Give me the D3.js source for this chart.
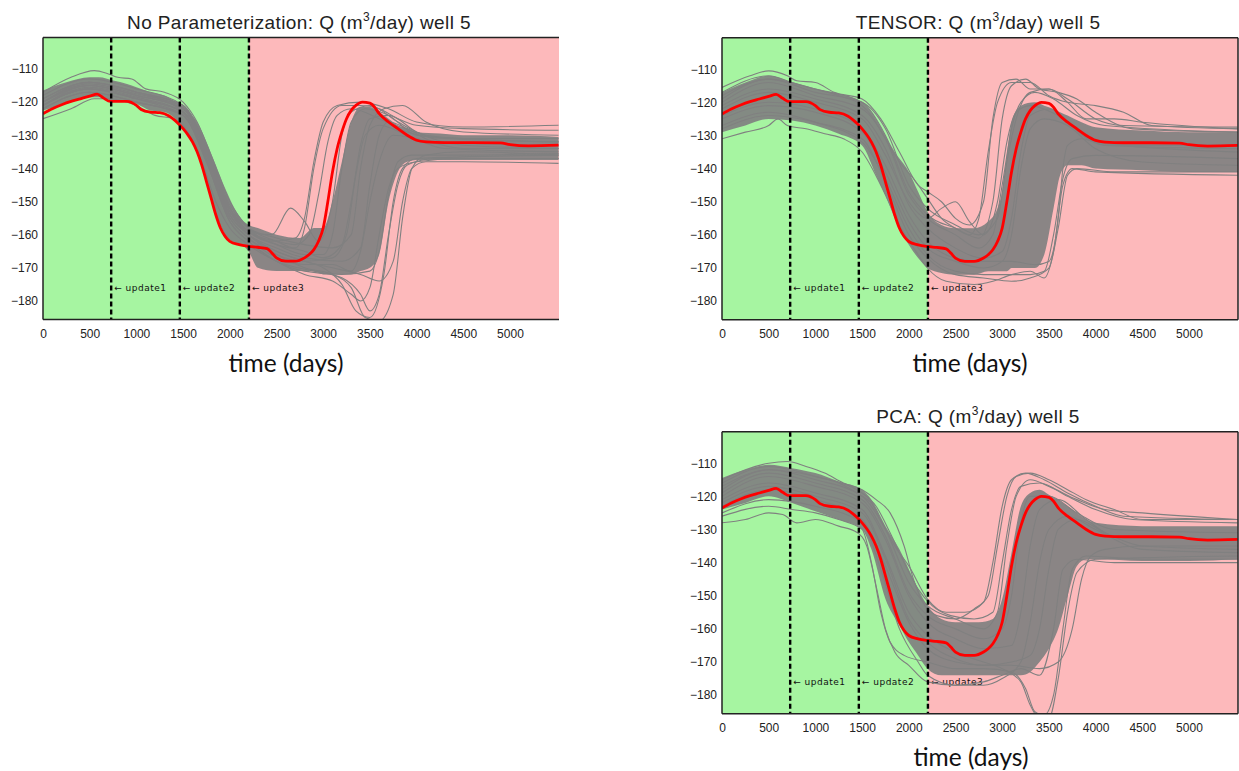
<!DOCTYPE html>
<html>
<head>
<meta charset="utf-8">
<script src="https://cdn.jsdelivr.net/npm/d3@7"></script>
<style>
  body { margin: 0; background: #fff; }
  svg { display: block; }
</style>
</head>
<body>
<svg width="1239" height="771"></svg>
<script>
// tick labels
const xTicks = [0, 500, 1000, 1500, 2000, 2500, 3000, 3500, 4000, 4500, 5000];
const yTicks = [-110, -120, -130, -140, -150, -160, -170, -180];
// update times (days) and labels
const updateDays = [730, 1465, 2205];
const updateLabels = ['update1', 'update2', 'update3'];
const historyEnd = 2205; // green = history, pink = forecast

// reference (true) rate, same in every panel: [day, Q]
const truthQ = [[0,-123.5],[100,-122],[200,-120.8],[300,-119.8],[400,-119],[500,-118.2],[580,-117.6],[650,-118.8],[720,-119.8],[800,-119.8],[900,-119.8],[1000,-121],[1050,-122.2],[1150,-123],[1250,-123.2],[1350,-124.2],[1450,-126.5],[1500,-128],[1550,-129.8],[1600,-132],[1650,-135],[1700,-139],[1750,-144],[1800,-149],[1850,-154],[1900,-158],[1950,-160.5],[2000,-162],[2100,-163],[2200,-163.5],[2300,-163.8],[2400,-164.2],[2450,-165.5],[2500,-167],[2600,-168],[2700,-168],[2800,-167],[2850,-166],[2900,-164.5],[2950,-162],[3000,-158],[3050,-150],[3100,-141],[3150,-134],[3200,-129],[3250,-125],[3300,-122.5],[3350,-121],[3420,-120],[3500,-120.3],[3550,-121.5],[3600,-123.5],[3700,-126],[3800,-128],[3900,-130],[4000,-131.5],[4100,-132],[4300,-132.2],[4600,-132.2],[4900,-132.3],[5000,-132.8],[5200,-133.2],[5520,-133]];

// dense part of each ensemble: [day, low, high]
const bandNoParam = [[0,-122.5,-116.5],[250,-120.5,-114],[500,-118.5,-112.5],[600,-118.5,-112.5],[750,-119.5,-113.5],[900,-119.5,-114.5],[1000,-120.5,-115.5],[1150,-122.5,-117],[1300,-123,-118],[1450,-126,-120.5],[1550,-129.5,-122.5],[1650,-135,-126],[1750,-143.5,-132],[1850,-153.5,-139],[1950,-160,-146],[2050,-162.5,-152],[2150,-163.5,-156],[2200,-165,-157],[2300,-170,-158],[2500,-171,-160],[2750,-171,-161],[2900,-171,-158],[3000,-172,-158],[3100,-172,-150],[3200,-172,-138],[3300,-172,-126],[3400,-171,-121.5],[3500,-170,-121.5],[3600,-166,-123],[3700,-150,-125],[3800,-141,-127],[3900,-138,-128],[4000,-137.5,-129],[4250,-137.5,-129.5],[4500,-137.5,-130],[5000,-137.5,-130],[5520,-137.5,-130.5]];
const bandTensor = [[0,-129,-117],[250,-127,-114],[500,-125,-112],[750,-125.5,-114],[1000,-127,-116],[1250,-129.5,-117.5],[1500,-133,-120],[1650,-142,-125],[1750,-148,-130],[1850,-155,-135],[2000,-163,-141],[2100,-167,-147],[2200,-170,-153],[2350,-171.5,-157],[2500,-172,-158],[2700,-172,-158],[2850,-171,-156],[2950,-171,-152],[3000,-171,-147],[3050,-171,-136],[3100,-170,-126],[3200,-170,-121],[3350,-170,-120],[3450,-166,-121],[3550,-152,-122],[3620,-142,-123],[3700,-139,-124],[3850,-139,-126],[4000,-140,-127.5],[4500,-140.5,-128.5],[5000,-141,-129],[5520,-141,-129]];
const bandPca = [[0,-124,-114.5],[250,-122,-112],[500,-120,-110.5],[750,-122,-111.5],[1000,-124.5,-113],[1250,-127,-115.5],[1500,-130,-118],[1600,-136,-121],[1750,-151,-129],[1900,-159,-136],[2000,-164,-142],[2100,-168,-148],[2200,-172,-153],[2350,-174,-157],[2500,-174,-158],[2750,-174,-158],[2900,-174,-157],[3000,-174,-151],[3100,-174,-137],[3200,-174,-123],[3300,-173,-119],[3400,-170,-118],[3500,-166,-119.5],[3600,-160,-121],[3700,-150,-123],[3800,-141,-125],[3900,-139,-127],[4000,-139,-128],[4500,-139.5,-129],[5000,-139.5,-129],[5520,-139,-129]];

// single realizations that stand out of the dense part: [day, Q]
const linesNoParam = [
  [[0,-117],[300,-112.5],[550,-110.5],[700,-111.5],[800,-112.5],[950,-113],[1100,-116],[1300,-117],[1500,-120],[1650,-126],[1800,-136],[2000,-150],[2200,-158],[2450,-162],[2700,-161],[2800,-155],[2900,-138],[3000,-126],[3150,-121],[3400,-120],[3700,-122],[4000,-126],[4500,-127.5],[5520,-127]],
  [[0,-125],[300,-122],[550,-119],[700,-119],[900,-120],[1000,-121],[1200,-124],[1400,-125],[1550,-129],[1700,-138],[1850,-150],[2000,-158],[2200,-163],[2500,-168],[2900,-171],[3200,-173],[3400,-178],[3500,-183],[3600,-178],[3700,-160],[3800,-145],[3900,-139],[4200,-137],[5520,-137]],
  [[0,-121],[500,-116],[750,-117],[1000,-119],[1250,-121],[1500,-124],[1750,-137],[2000,-155],[2200,-161],[2500,-166],[2800,-170],[3100,-172],[3300,-176],[3450,-185],[3600,-186],[3750,-178],[3850,-155],[3950,-140],[4100,-136],[4500,-135],[5520,-136]],
  [[0,-119],[500,-114],[750,-115],[1000,-117],[1250,-119],[1500,-123],[1750,-134],[2000,-152],[2200,-158],[2500,-162],[2700,-164],[2800,-158],[2900,-140],[3000,-128],[3200,-121],[3400,-121],[3600,-122],[3800,-125],[4000,-127],[4500,-128],[5520,-128.5]],
  [[0,-120],[500,-115],[1000,-118],[1500,-122],[1750,-135],[2000,-153],[2200,-159],[2500,-163],[2800,-166],[3000,-166],[3100,-160],[3200,-140],[3300,-126],[3450,-122],[3700,-124],[4000,-130],[4500,-131],[5520,-131]],
  [[0,-118],[500,-113],[1000,-116],[1500,-121],[1750,-133],[2000,-151],[2200,-158],[2500,-161],[2800,-163],[3100,-164],[3300,-160],[3400,-140],[3500,-127],[3650,-122],[3850,-121],[4100,-126],[4500,-129],[5520,-130]],
  [[0,-121],[500,-116],[1000,-119],[1500,-123],[1750,-136],[2000,-154],[2200,-160],[2500,-164],[2800,-167],[3200,-168],[3400,-164],[3500,-145],[3600,-130],[3700,-126],[3900,-128],[4200,-132],[5520,-133]],
  [[0,-122],[500,-117],[1000,-120],[1500,-124],[1750,-138],[2000,-156],[2200,-162],[2500,-168],[2800,-171],[3200,-172],[3500,-171],[3600,-165],[3700,-148],[3800,-138],[3950,-136],[4300,-136],[5520,-135.5]],
  [[0,-120],[500,-115],[1000,-118],[1500,-122],[1750,-135],[2000,-153],[2200,-160],[2500,-165],[2800,-168],[3100,-170],[3400,-172],[3600,-174],[3750,-168],[3850,-150],[3950,-140],[4100,-138],[4500,-138],[5520,-138.5]],
  [[0,-119],[500,-114],[1000,-117],[1500,-121],[1750,-134],[2000,-152],[2200,-159],[2450,-160],[2650,-152],[2800,-156],[2950,-162],[3100,-150],[3200,-130],[3300,-123],[3500,-121],[3800,-126],[4100,-130],[4500,-131],[5520,-132]],
  [[0,-121],[500,-115.5],[1000,-118.5],[1500,-123],[1750,-137],[2000,-155],[2200,-161],[2500,-167],[2800,-169],[3100,-169],[3300,-171],[3400,-165],[3500,-150],[3600,-138],[3750,-130],[4000,-131],[4500,-134],[5520,-134]],
  [[0,-120],[500,-114.5],[1000,-117.5],[1500,-121.5],[1750,-134],[2000,-152],[2200,-159],[2500,-163],[2800,-165],[3000,-167],[3200,-163],[3300,-150],[3400,-133],[3500,-125],[3700,-124],[4000,-129],[4500,-133],[5520,-134]],
  [[0,-122],[500,-117],[1000,-120],[1500,-124],[1750,-138],[2000,-156],[2200,-162],[2500,-168],[2800,-172],[3100,-174],[3300,-178],[3400,-180],[3500,-176],[3600,-160],[3700,-146],[3800,-140],[4000,-138],[4500,-137],[5520,-137]],
  [[0,-121],[500,-116],[1000,-119],[1500,-123],[1750,-136],[2000,-154],[2200,-160],[2500,-165],[2800,-168],[3000,-170],[3200,-175],[3350,-183],[3500,-185],[3650,-172],[3750,-150],[3850,-140],[4000,-137],[5520,-136]],
  [[0,-120],[500,-114],[1000,-117],[1500,-121],[1750,-134],[2000,-152],[2200,-159],[2500,-162],[2700,-163],[2850,-160],[2950,-148],[3050,-132],[3150,-124],[3300,-122],[3600,-125],[3900,-129],[4300,-131],[5520,-132]],
  [[0,-121],[500,-115],[1000,-118],[1500,-122],[1750,-135],[2000,-154],[2200,-160],[2500,-166],[2800,-168],[3100,-167],[3250,-160],[3350,-142],[3450,-130],[3600,-127],[3900,-130],[4300,-134],[5520,-135]]
];
const linesTensor = [
  [[0,-115.5],[300,-112],[500,-110.5],[700,-112],[800,-113.5],[1000,-114],[1200,-117],[1500,-119],[1700,-125],[1900,-135],[2100,-145],[2200,-147],[2350,-150],[2500,-155],[2650,-157],[2800,-150],[2900,-125],[3000,-114],[3150,-113],[3300,-116],[3500,-116],[3700,-119],[4000,-125],[4300,-127],[5520,-127.5]],
  [[0,-131],[250,-129],[500,-127],[600,-125],[700,-127],[900,-128],[1100,-129.5],[1300,-131],[1500,-135],[1700,-145],[1900,-157],[2100,-166],[2200,-170],[2400,-174],[2700,-175],[2900,-174],[3100,-172],[3300,-171],[3450,-173],[3550,-165],[3650,-145],[3750,-140],[4000,-141],[5520,-142]],
  [[0,-117],[500,-112],[750,-114],[1000,-116],[1250,-118],[1500,-121],[1600,-124],[1750,-131],[1900,-138],[2050,-143],[2200,-149],[2350,-155],[2500,-158],[2650,-160],[2750,-155],[2850,-135],[2950,-120],[3100,-114],[3300,-114],[3500,-118],[3700,-120],[4000,-121],[4300,-123],[4600,-127],[5520,-128]],
  [[0,-127],[500,-123],[750,-124],[1000,-126],[1500,-132],[1750,-143],[2000,-158],[2200,-166],[2500,-171],[2800,-172],[3100,-172],[3300,-172],[3450,-171],[3550,-160],[3650,-143],[3750,-137],[4000,-136],[5520,-137]],
  [[0,-120],[500,-114],[1000,-118],[1500,-122],[1750,-131],[2000,-148],[2200,-155],[2500,-160],[2750,-164],[2900,-160],[3000,-145],[3100,-128],[3200,-120],[3350,-117],[3550,-119],[3800,-124],[4100,-127],[5520,-129]],
  [[0,-124],[500,-120],[1000,-122],[1500,-128],[1750,-139],[2000,-154],[2200,-162],[2500,-167],[2800,-168],[3100,-168],[3350,-169],[3500,-168],[3600,-155],[3650,-140],[3700,-133],[3850,-131],[4100,-133],[5520,-134]],
  [[0,-122],[500,-117],[1000,-120],[1500,-125],[1750,-136],[2000,-150],[2200,-155],[2350,-152],[2500,-150],[2650,-156],[2800,-160],[2950,-150],[3050,-132],[3150,-123],[3300,-121],[3600,-124],[4000,-132],[5520,-135]],
  [[0,-125],[500,-121],[1000,-123],[1500,-129],[1750,-141],[2000,-156],[2200,-164],[2500,-168],[2800,-170],[3000,-168],[3100,-160],[3200,-140],[3300,-128],[3450,-125],[3700,-127],[4000,-134],[4500,-138],[5520,-139]],
  [[0,-119],[500,-113],[1000,-117],[1500,-120],[1750,-128],[2000,-145],[2200,-152],[2500,-157],[2750,-160],[2950,-155],[3050,-138],[3150,-125],[3300,-117],[3500,-116],[3700,-120],[3900,-125],[4200,-125],[4500,-126],[5520,-128]],
  [[0,-118],[500,-113],[1000,-116],[1500,-120],[1750,-130],[2000,-147],[2200,-154],[2500,-158],[2750,-161],[2900,-150],[3000,-125],[3100,-115],[3250,-113],[3400,-116],[3600,-117],[3800,-119],[4000,-123],[4400,-128],[5520,-129]],
  [[0,-128],[500,-124],[1000,-126],[1500,-131],[1750,-144],[2000,-160],[2200,-167],[2500,-172],[2800,-173],[3100,-174],[3300,-173],[3500,-170],[3600,-158],[3700,-142],[3800,-140],[4200,-141],[5520,-141]],
  [[0,-121],[500,-116],[1000,-119],[1500,-124],[1750,-134],[2000,-151],[2200,-158],[2500,-164],[2800,-167],[3000,-165],[3100,-155],[3200,-135],[3300,-124],[3500,-122],[3800,-128],[4100,-133],[5520,-133]]
];
const linesPca = [
  [[0,-128],[250,-127],[500,-125],[650,-125.5],[800,-128],[1000,-127],[1250,-129],[1450,-131],[1550,-135],[1650,-147],[1750,-160],[1850,-167],[2000,-171],[2200,-176],[2500,-177],[2800,-176],[3000,-174],[3200,-172],[3400,-174],[3550,-160],[3650,-142],[3800,-139],[4200,-140],[5520,-140]],
  [[0,-126],[500,-123],[750,-124],[1000,-125],[1250,-127],[1500,-130],[1600,-140],[1700,-155],[1800,-164],[1950,-168],[2200,-170],[2500,-172],[2800,-172],[3100,-173],[3250,-178],[3350,-185],[3450,-186],[3550,-180],[3650,-160],[3750,-142],[3900,-138],[4500,-139],[5520,-139]],
  [[0,-115],[500,-110],[700,-109.5],[900,-111],[1100,-113],[1300,-116],[1500,-118],[1650,-121],[1800,-125],[1950,-135],[2050,-145],[2150,-152],[2300,-156],[2500,-157],[2700,-154],[2850,-150],[2950,-135],[3050,-120],[3150,-114],[3300,-113],[3500,-115],[3700,-118],[3900,-121],[4200,-124],[4500,-127],[5520,-127]],
  [[0,-116],[500,-111],[1000,-114],[1500,-119],[1650,-123],[1800,-131],[1950,-140],[2100,-148],[2250,-153],[2450,-156],[2700,-157],[2900,-155],[3000,-140],[3100,-124],[3200,-117],[3400,-116],[3700,-120],[4000,-124],[4400,-127],[5520,-128]],
  [[0,-121],[500,-116],[1000,-119],[1500,-124],[1750,-138],[2000,-155],[2200,-162],[2500,-167],[2800,-170],[3000,-172],[3200,-176],[3300,-183],[3400,-187],[3500,-187],[3600,-175],[3700,-155],[3800,-143],[4000,-139],[5520,-138]],
  [[0,-123],[500,-118],[1000,-121],[1500,-127],[1750,-141],[2000,-158],[2200,-166],[2500,-170],[2800,-171],[3100,-171],[3400,-172],[3600,-170],[3750,-160],[3850,-145],[3950,-138],[4100,-136],[4500,-135],[5520,-135]],
  [[0,-118],[500,-112],[1000,-115],[1500,-120],[1750,-130],[2000,-146],[2200,-153],[2500,-157],[2800,-160],[2950,-155],[3050,-135],[3150,-120],[3300,-115],[3500,-117],[3800,-121],[4100,-124],[4500,-125],[5520,-127]],
  [[0,-120],[500,-114],[1000,-117],[1500,-122],[1750,-133],[2000,-150],[2200,-158],[2500,-163],[2800,-166],[3100,-165],[3200,-155],[3300,-135],[3400,-124],[3600,-121],[3900,-127],[4200,-132],[5520,-133]],
  [[0,-122],[500,-117],[1000,-120],[1500,-125],[1750,-139],[2000,-157],[2200,-164],[2500,-169],[2800,-171],[3100,-170],[3300,-168],[3400,-160],[3500,-142],[3600,-130],[3800,-127],[4100,-131],[4500,-135],[5520,-136]],
  [[0,-125],[500,-121],[1000,-123],[1500,-128],[1700,-142],[1900,-160],[2100,-170],[2200,-174],[2500,-177],[2800,-177],[3000,-175],[3200,-170],[3300,-158],[3400,-140],[3500,-130],[3700,-126],[4000,-130],[4500,-136],[5520,-137]],
  [[0,-117],[500,-112],[1000,-114],[1250,-116],[1500,-120],[1600,-122],[1700,-127],[1850,-135],[2000,-141],[2200,-151],[2400,-155],[2600,-155],[2800,-152],[2900,-140],[3000,-123],[3100,-115],[3250,-113],[3450,-115],[3700,-119],[4000,-123],[4300,-126],[5520,-127]],
  [[0,-119],[500,-113],[1000,-116],[1500,-121],[1750,-132],[2000,-149],[2200,-156],[2500,-160],[2800,-163],[3000,-160],[3100,-150],[3200,-128],[3300,-120],[3500,-120],[3800,-125],[4200,-130],[5520,-131]]
];

const panels = [
  { name: 'No Parameterization', band: bandNoParam, lines: linesNoParam, left: 43, top: 37.5, labelX: 286, rightEdge: false },
  { name: 'TENSOR', band: bandTensor, lines: linesTensor, left: 722, top: 37.7, labelX: 970, rightEdge: true },
  { name: 'PCA', band: bandPca, lines: linesPca, left: 722, top: 431.7, labelX: 971, rightEdge: true }
];

const svg = d3.select('svg');
const plotW = 516;
const plotH = 282;
const green = '#a6f5a1';
const pink = '#fdb9bb';
const gray = '#808080';
const tickFont = 'Liberation Sans, Arial, sans-serif';

panels.forEach((p, k) => {
  const x = d3.scaleLinear().domain([0, 5525]).range([0, plotW]);
  const y = d3.scaleLinear().domain([-185.6, -100.5]).range([plotH, 0]);
  const g = svg.append('g').attr('transform', `translate(${p.left},${p.top})`);

  g.append('clipPath').attr('id', 'clip' + k)
    .append('rect').attr('width', plotW).attr('height', plotH);

  // history / forecast backgrounds
  g.append('rect').attr('width', x(historyEnd)).attr('height', plotH).attr('fill', green);
  g.append('rect').attr('x', x(historyEnd)).attr('width', plotW - x(historyEnd)).attr('height', plotH).attr('fill', pink);

  // update labels (under the ensemble)
  updateDays.forEach((d, i) => {
    g.append('text')
      .attr('x', x(d) + 3).attr('y', y(-176))
      .attr('dy', '0.35em')
      .attr('font-family', 'DejaVu Sans, Liberation Sans, sans-serif')
      .attr('font-size', 9).attr('letter-spacing', 0.5)
      .attr('fill', '#111')
      .text('\u2190 ' + updateLabels[i]);
  });

  const plot = g.append('g').attr('clip-path', `url(#clip${k})`);

  plot.append('path')
    .datum(p.band)
    .attr('fill', gray).attr('fill-opacity', 0.92)
    .attr('d', d3.area().curve(d3.curveMonotoneX)
      .x(d => x(d[0])).y0(d => y(d[1])).y1(d => y(d[2])));

  const line = d3.line().curve(d3.curveMonotoneX).x(d => x(d[0])).y(d => y(d[1]));
  plot.selectAll('.ens')
    .data(p.lines)
    .enter()
    .append('path')
    .attr('class', 'ens')
    .attr('fill', 'none').attr('stroke', gray).attr('stroke-width', 1.1)
    .attr('d', line);

  plot.append('path')
    .datum(truthQ)
    .attr('fill', 'none').attr('stroke', '#f00').attr('stroke-width', 2.8)
    .attr('d', line);

  // update markers
  g.selectAll('.upd')
    .data(updateDays)
    .enter()
    .append('line')
    .attr('x1', d => x(d)).attr('x2', d => x(d))
    .attr('y1', 0).attr('y2', plotH)
    .attr('stroke', '#000').attr('stroke-width', 2.4).attr('stroke-dasharray', '5,3');

  // frame
  const frame = g.append('g').attr('stroke', '#222').attr('stroke-width', 1.5);
  frame.append('line').attr('x1', 0).attr('x2', plotW).attr('y1', 0).attr('y2', 0);
  frame.append('line').attr('x1', 0).attr('x2', plotW).attr('y1', plotH).attr('y2', plotH);
  frame.append('line').attr('x1', 0).attr('x2', 0).attr('y1', 0).attr('y2', plotH);
  if (p.rightEdge) frame.append('line').attr('x1', plotW).attr('x2', plotW).attr('y1', 0).attr('y2', plotH);

  // axes: labels only
  g.append('g')
    .attr('transform', `translate(0,${plotH})`)
    .call(d3.axisBottom(x).tickValues(xTicks).tickFormat(d3.format('d')).tickSize(0).tickPadding(10))
    .call(a => a.select('.domain').remove())
    .call(a => a.selectAll('text').attr('font-family', tickFont).attr('font-size', 12).attr('fill', '#222'));
  g.append('g')
    .call(d3.axisLeft(y).tickValues(yTicks).tickFormat(d3.format('d')).tickSize(0).tickPadding(5))
    .call(a => a.select('.domain').remove())
    .call(a => a.selectAll('text').attr('font-family', tickFont).attr('font-size', 12).attr('fill', '#222'));

  // title
  const title = g.append('text')
    .attr('x', plotW / 2 - 2).attr('y', -8.5)
    .attr('text-anchor', 'middle')
    .attr('font-family', 'Liberation Sans, Arial, sans-serif')
    .attr('font-size', 19).attr('letter-spacing', 0.4).attr('fill', '#222');
  title.append('tspan').text(p.name + ': Q (m');
  title.append('tspan').attr('font-size', 12).attr('dy', -8).text('3');
  title.append('tspan').attr('dy', 8).text('/day) well 5');

  // x label
  g.append('text')
    .attr('x', p.labelX - p.left).attr('y', plotH + 52)
    .attr('text-anchor', 'middle')
    .attr('font-family', 'Lato, Open Sans, sans-serif')
    .attr('font-size', 24.5).attr('fill', '#111')
    .text('time (days)');
});
</script>
</body>
</html>
